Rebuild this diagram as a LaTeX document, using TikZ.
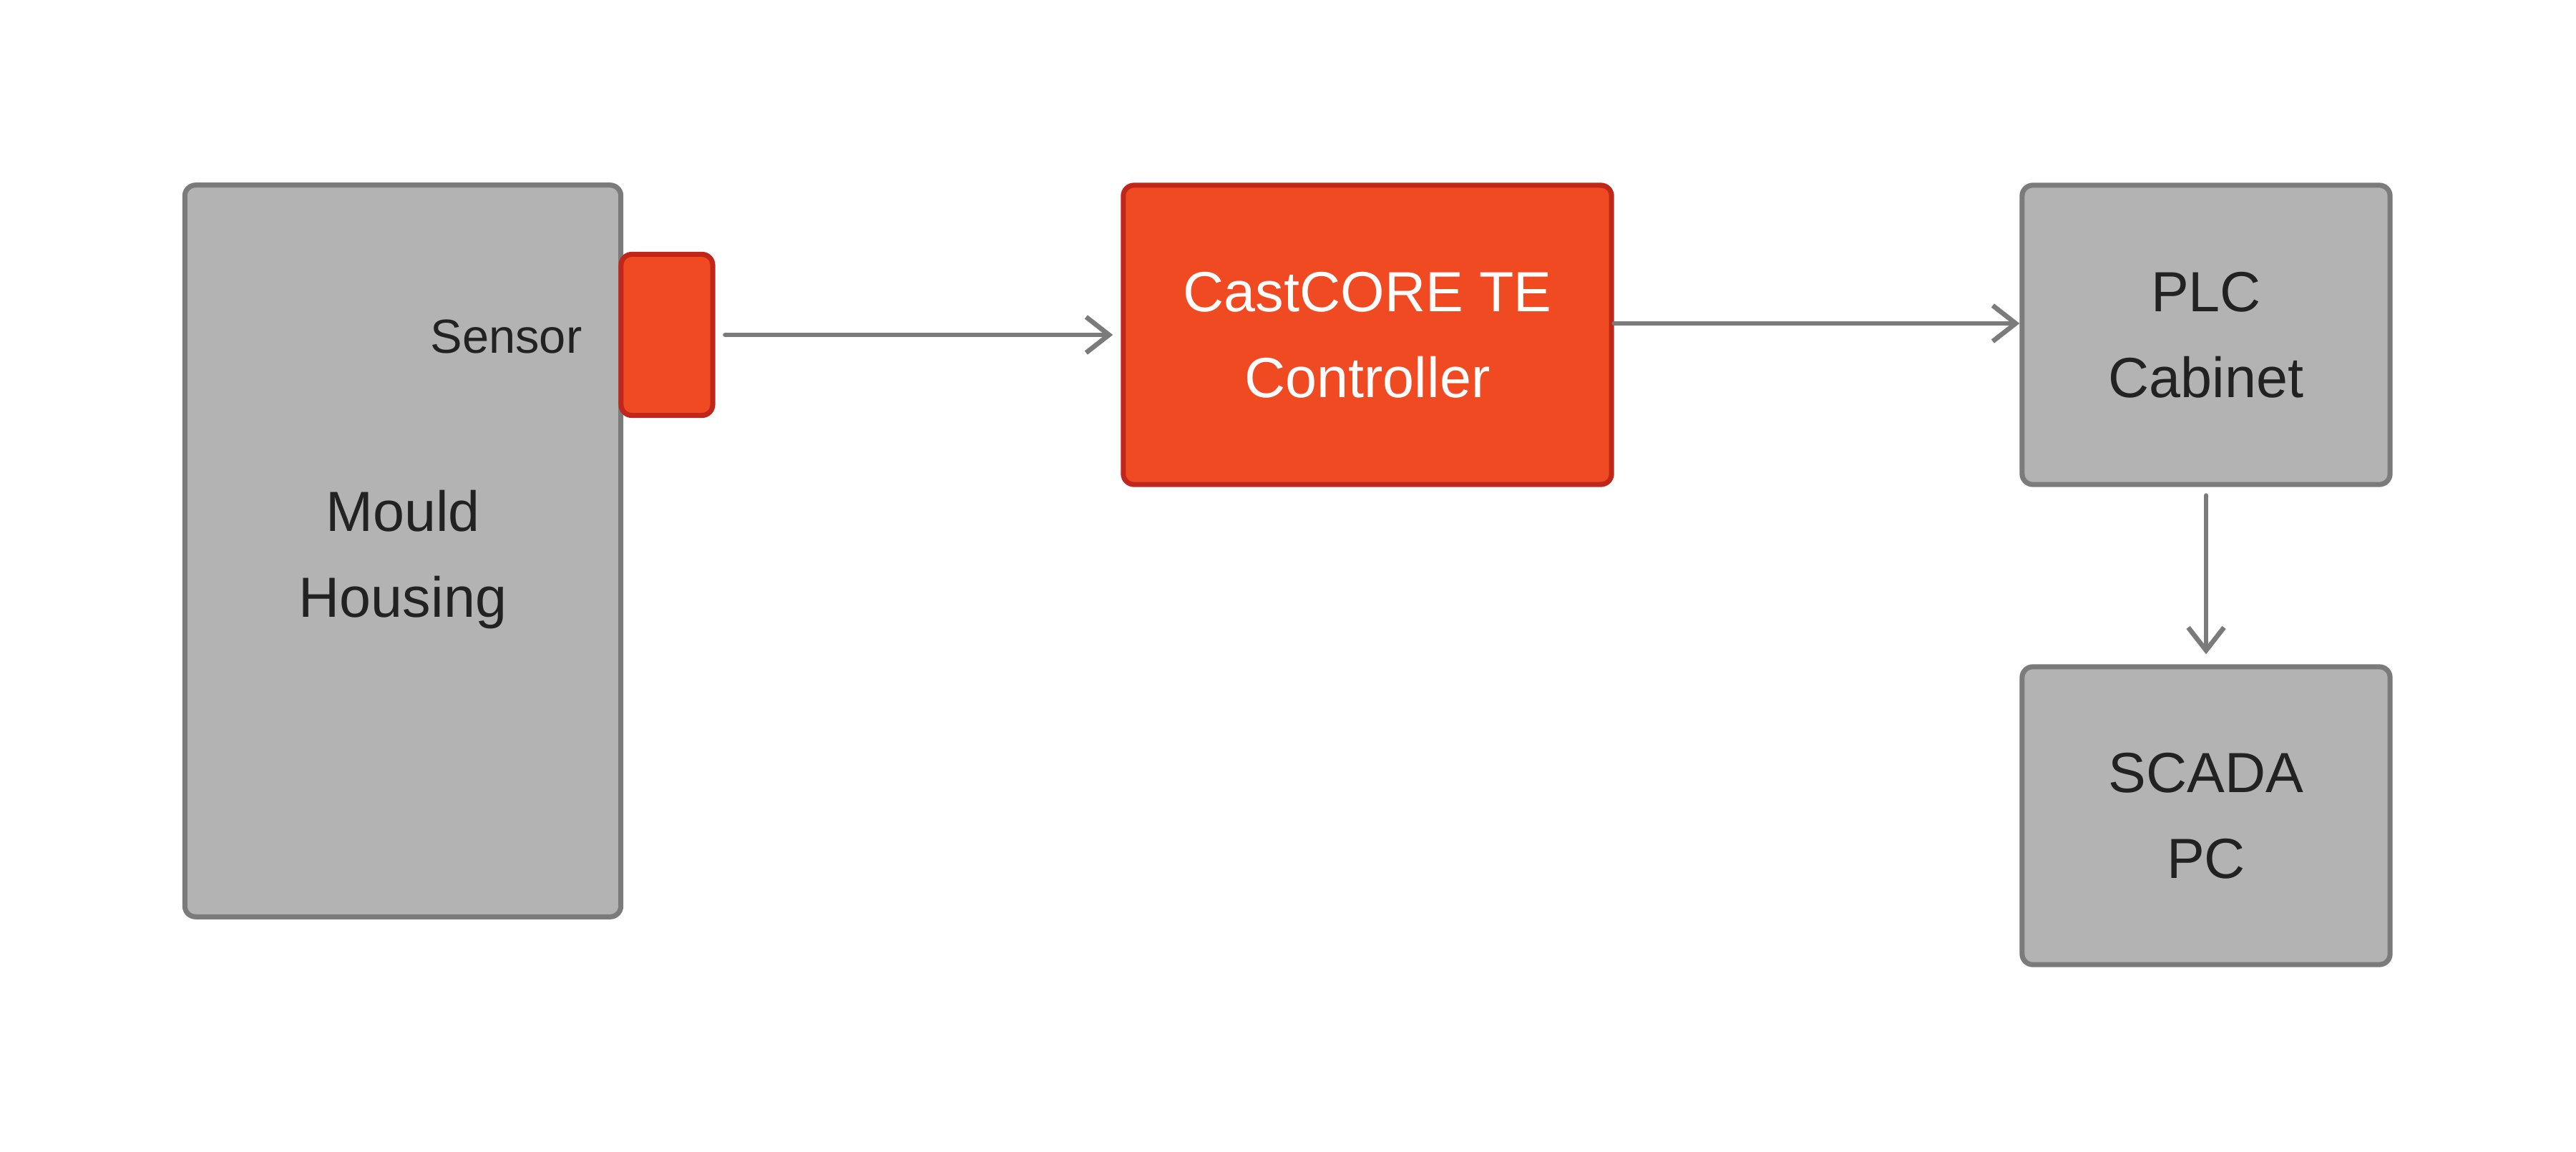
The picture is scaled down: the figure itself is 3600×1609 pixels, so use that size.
\documentclass[tikz,border=0pt]{standalone}
\usepackage{fontspec}
\setmainfont{Liberation Sans}
\usetikzlibrary{arrows.meta}
\definecolor{boxgray}{HTML}{B3B3B3}
\definecolor{boxedge}{HTML}{7B7B7B}
\definecolor{hotred}{HTML}{F04A23}
\definecolor{hotedge}{HTML}{C0271A}
\definecolor{inkdark}{HTML}{222222}
\tikzset{
  graybox/.style={draw=boxedge, fill=boxgray, line width=2pt, rounded corners=0.15cm,
    inner sep=0pt, align=center, text=inkdark, font=\fontsize{22.5}{34}\selectfont},
  redbox/.style={draw=hotedge, fill=hotred, line width=2pt, rounded corners=0.15cm,
    inner sep=0pt, align=center, text=white, font=\fontsize{22.5}{34}\selectfont},
  conn/.style={draw=boxedge, line width=1.9pt, line cap=round,
    -{Straight Barb[length=0.32cm,width=0.5cm,line width=1.9pt]}},
}
\begin{document}
\begin{tikzpicture}[x=0.01cm, y=-0.01cm]
\useasboundingbox (0,0) rectangle (3600,1609);
\node[graybox, minimum width=6.09cm, minimum height=10.22cm] (mould) at (563,770) {};
\node[text=inkdark, align=center, inner sep=0pt, font=\fontsize{22.5}{34}\selectfont] (mouldlbl) at (563,782) {Mould\\Housing};
\node[redbox, minimum width=1.28cm, minimum height=2.25cm] (sensor) at (932,468) {};
\node[anchor=east, text=inkdark, font=\fontsize{19}{23}\selectfont, inner sep=0pt] (sensorlbl) at (814,470) {Sensor};
\node[redbox, minimum width=6.82cm, minimum height=4.18cm] (ctrl) at (1911,468) {CastCORE TE\\Controller};
\node[graybox, minimum width=5.14cm, minimum height=4.18cm] (plc) at (3083,468) {PLC\\Cabinet};
\node[graybox, minimum width=5.14cm, minimum height=4.16cm] (scada) at (3083,1140) {SCADA\\PC};
\draw[conn] ([xshift=0.14cm]sensor.east) -- ([xshift=-0.11cm]ctrl.west |- sensor.east);
\draw[conn] ([yshift=0.16cm]ctrl.east) -- ([yshift=0.16cm]plc.west);
\draw[conn] ([yshift=-0.12cm]plc.south) -- ([yshift=0.14cm]scada.north);
\end{tikzpicture}
\end{document}
